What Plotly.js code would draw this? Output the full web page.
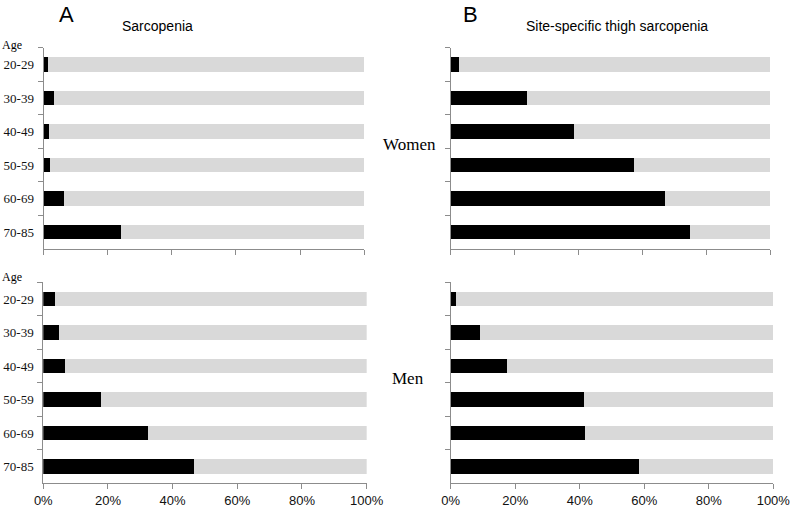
<!DOCTYPE html>
<html>
<head>
<meta charset="utf-8">
<script src="https://cdn.plot.ly/plotly-3.0.1.min.js"></script>
<style>html,body{margin:0;padding:0;background:#fff}#chart{width:794px;height:508px}</style>
</head>
<body>
<div id="chart"></div>
<script>
var ageGroups = ["20-29", "30-39", "40-49", "50-59", "60-69", "70-85"];
var sarcopeniaWomen = [1.4, 3.3, 1.7, 1.9, 6.5, 24.0];
var sarcopeniaMen = [3.6, 5.0, 6.7, 18.0, 32.5, 46.7];
var thighWomen = [2.6, 23.9, 38.5, 57.5, 67.1, 74.9];
var thighMen = [1.7, 9.1, 17.5, 41.2, 41.7, 58.4];
var xTickVals = [0, 20, 40, 60, 80, 100];
var xTickText = ["0%", "20%", "40%", "60%", "80%", "100%"];

function rest(arr) { return arr.map(function (v) { return 100 - v; }); }

var panels = [
  {vals: sarcopeniaWomen, xa: "x", ya: "y"},
  {vals: sarcopeniaMen, xa: "x2", ya: "y2"},
  {vals: thighWomen, xa: "x3", ya: "y3"},
  {vals: thighMen, xa: "x4", ya: "y4"}
];
var traces = [];
panels.forEach(function (p) {
  traces.push({type: "bar", orientation: "h", y: ageGroups, x: p.vals, xaxis: p.xa, yaxis: p.ya,
    marker: {color: "#000000", line: {width: 0}}, hoverinfo: "x+y", showlegend: false});
  traces.push({type: "bar", orientation: "h", y: ageGroups, x: rest(p.vals), xaxis: p.xa, yaxis: p.ya,
    marker: {color: "#d9d9d9", line: {width: 0}}, hoverinfo: "skip", showlegend: false});
});

function xax(domain, anchor, labels) {
  return {domain: domain, anchor: anchor, range: [0, 100], showgrid: false, zeroline: false,
    showline: true, linecolor: "#8c8c8c", linewidth: 1, ticks: "outside", ticklen: 5, tickcolor: "#8c8c8c",
    tickvals: xTickVals, ticktext: xTickText, showticklabels: labels,
    tickfont: {family: "Liberation Sans, Arial, sans-serif", size: 13, color: "#111"}};
}
function yax(domain, anchor, labels) {
  return {domain: domain, anchor: anchor, type: "category", autorange: "reversed", showgrid: false,
    zeroline: false, showline: true, linecolor: "#8c8c8c", linewidth: 1, ticks: "outside", ticklen: 5,
    tickcolor: "#8c8c8c", tickson: "boundaries", showticklabels: labels, ticklabelstandoff: 6,
    tickfont: {family: "Liberation Serif, Times New Roman, serif", size: 13, color: "#111"}};
}

var serif = "Liberation Serif, Times New Roman, serif";
var sans = "Liberation Sans, Arial, sans-serif";
function ann(text, px, py, font, size, xanchor) {
  return {text: text, x: px / 794, y: 1 - py / 508, xref: "paper", yref: "paper", showarrow: false,
    xanchor: xanchor || "center", yanchor: "middle", font: {family: font, size: size, color: "#000"}};
}
var layout = {
  width: 794, height: 508, margin: {l: 0, r: 0, t: 0, b: 0},
  paper_bgcolor: "#fff", plot_bgcolor: "#fff",
  barmode: "stack", bargap: 0.57,
  xaxis: xax([0.0548, 0.4588], "y", false),
  yaxis: yax([0.5098, 0.9061], "x", true),
  xaxis2: xax([0.0545, 0.4618], "y2", true),
  yaxis2: yax([0.0486, 0.4443], "x2", true),
  xaxis3: xax([0.5676, 0.9698], "y3", false),
  yaxis3: yax([0.5098, 0.9061], "x3", false),
  xaxis4: xax([0.5676, 0.9739], "y4", true),
  yaxis4: yax([0.0486, 0.4443], "x4", false),
  annotations: [
    ann("A", 66, 15, sans, 22),
    ann("B", 470, 15, sans, 22),
    ann("Sarcopenia", 157, 26, sans, 14),
    ann("Site-specific thigh sarcopenia", 617, 26, sans, 14),
    ann("Age", 0, 45, serif, 12, "left"),
    ann("Age", 0, 277, serif, 12, "left"),
    ann("Women", 409, 145, serif, 17),
    ann("Men", 408, 378, serif, 17)
  ]
};

Plotly.newPlot("chart", traces, layout, {displayModeBar: false, staticPlot: true});
</script>
</body>
</html>
